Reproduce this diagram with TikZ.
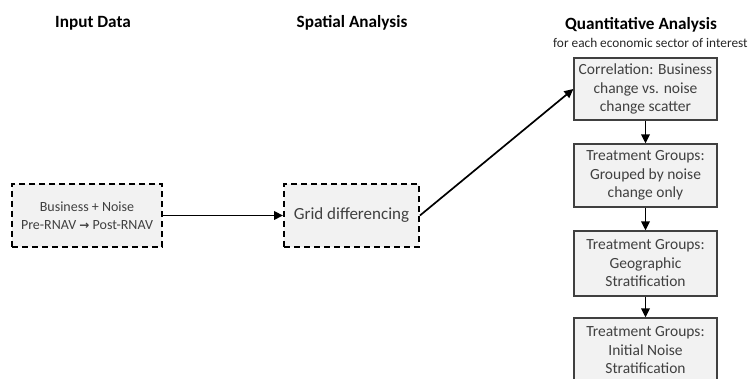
\documentclass[tikz,border=0pt]{standalone}
\usepackage{fontspec}
\setmainfont{Carlito}
\newfontfamily\symfont{DejaVu Sans}
\usetikzlibrary{arrows.meta}
\definecolor{boxfill}{HTML}{F2F2F2}
\definecolor{boxtext}{HTML}{404040}
\tikzset{
  dashbox/.style={draw=black, fill=boxfill, line width=1.9pt, dash pattern=on 6pt off 4pt,
    align=center, text=boxtext, font=\fontsize{14}{17.5}\selectfont, inner sep=0pt},
  solidbox/.style={draw=black!75, fill=boxfill, line width=1.3pt,
    align=center, text=boxtext, font=\fontsize{15.5}{18.5}\selectfont, inner sep=0pt,
    minimum width=143pt},
  title/.style={font=\bfseries\fontsize{17.2}{20}\selectfont, text=black},
  conn/.style={line width=1.7pt, -{Triangle[length=9pt,width=8.5pt]}}
}
\begin{document}
\begin{tikzpicture}[x=1pt,y=-1pt]
\useasboundingbox (0,0) rectangle (753,379);
\clip (0,0) rectangle (753,379);
\node[title] (t1) at (93,23) {Input Data};
\node[title] (t2) at (352,23) {Spatial Analysis};
\node[title] (t3) at (641,25) {Quantitative Analysis};
\node[font=\fontsize{13.3}{15}\selectfont, text=black!85, anchor=west, inner sep=0pt] (t4) at (553,42.5) {for each economic sector of interest};

\node[dashbox, minimum width=150pt, minimum height=63pt] (inp) at (87,215.5) {Business + Noise\\Pre-RNAV {\symfont\bfseries\fontsize{12}{12}\selectfont →} Post-RNAV};
\node[dashbox, minimum width=135pt, minimum height=63pt, font=\fontsize{17}{20}\selectfont] (grid) at (351.5,215.5) {Grid differencing};

\node[solidbox, minimum height=62pt] (b1) at (645.5,89) {Correlation: Business\\change vs. noise\\change scatter};
\node[solidbox, minimum height=63pt] (b2) at (645.5,175.5) {Treatment Groups:\\Grouped by noise\\change only};
\node[solidbox, minimum height=65pt] (b3) at (645.5,263.5) {Treatment Groups:\\Geographic\\Stratification};
\node[solidbox, minimum height=65pt] (b4) at (645.5,350.5) {Treatment Groups:\\Initial Noise\\Stratification};

\draw[conn] (inp.east) -- (grid.west);
\draw[conn] (grid.east) -- (b1.west);
\draw[conn] (b1.south) -- (b2.north);
\draw[conn] (b2.south) -- (b3.north);
\draw[conn] (b3.south) -- (b4.north);
\end{tikzpicture}
\end{document}
